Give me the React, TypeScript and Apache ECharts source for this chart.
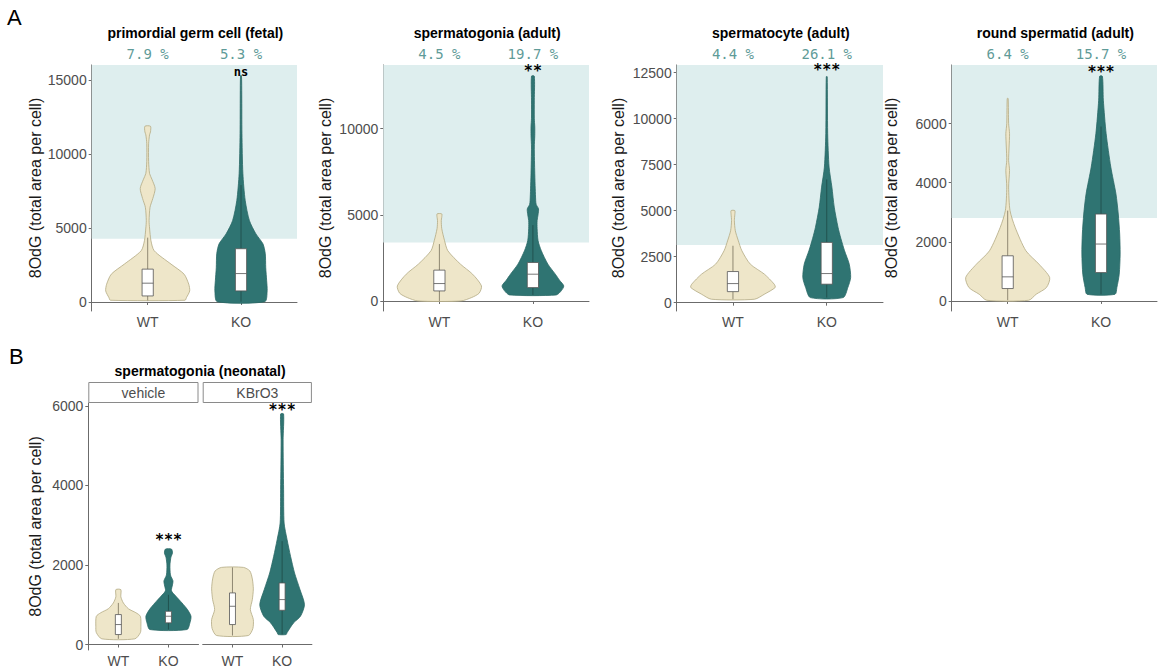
import React, { useEffect, useRef } from "react";
import * as echarts from "echarts";

// ---------------- data ----------------
const categories = ["WT", "KO"];
const categoryPositions = [1, 2];

const titlesA = [
  "primordial germ cell (fetal)",
  "spermatogonia (adult)",
  "spermatocyte (adult)",
  "round spermatid (adult)",
];
const percentWT = ["7.9 %", "4.5 %", "4.4 %", "6.4 %"];
const percentKO = ["5.3 %", "19.7 %", "26.1 %", "15.7 %"];
const signifA = ["ns", "**", "***", "***"];
const signifAtA = [15550, 13340, 12650, 7745];
const shadeFromA = [4280, 3395, 3133, 2808];
const yMinA = [-611, -582, -453, -340];
const yMaxA = [16022, 13686, 12920, 7982];
const yTicksA = [
  [0, 5000, 10000, 15000],
  [0, 5000, 10000],
  [0, 2500, 5000, 7500, 10000, 12500],
  [0, 2000, 4000, 6000],
];

// violin profiles: [value, width as fraction of one category unit]
const pgcWT = [[115, 0.8], [290, 0.83], [747, 0.9], [1200, 0.88], [1880, 0.78], [2560, 0.5], [3462, 0.14], [4140, 0.07], [5000, 0.04], [5500, 0.03], [6400, 0.05], [7000, 0.11], [7670, 0.16], [8300, 0.09], [8690, 0.04], [9500, 0.02], [10700, 0.02], [11300, 0.04], [11500, 0.06], [11880, 0.06]];
const pgcKO = [[20, 0.51], [750, 0.56], [1430, 0.55], [2310, 0.53], [3260, 0.52], [3930, 0.47], [4600, 0.32], [5500, 0.18], [6860, 0.09], [8690, 0.04], [11400, 0.02], [14000, 0.016], [15300, 0.01]];
const pgcBox = [[100, 407, 1270, 2220, 4350], [20, 747, 1920, 3600, 7900]];

const spgWT = [[0, 0.46], [200, 0.69], [450, 0.85], [874, 0.9], [1553, 0.71], [2136, 0.45], [2912, 0.18], [3500, 0.11], [4200, 0.05], [4660, 0.04], [4850, 0.05], [5050, 0.05]];
const spgKO = [[350, 0.5], [600, 0.61], [874, 0.66], [1200, 0.57], [1553, 0.48], [2136, 0.32], [2912, 0.18], [3500, 0.11], [4200, 0.09], [4660, 0.09], [5000, 0.11], [5340, 0.12], [5600, 0.07], [5820, 0.06], [6500, 0.05], [7380, 0.04], [8930, 0.03], [9600, 0.04], [10090, 0.04], [10600, 0.03], [11650, 0.03], [13040, 0.03]];
const spgBox = [[0, 582, 1010, 1788, 3300], [350, 775, 1553, 2230, 4400]];

const spcWT = [[187, 0.46], [460, 0.67], [823, 0.9], [1005, 0.88], [1550, 0.67], [2094, 0.37], [2822, 0.19], [3400, 0.11], [3910, 0.05], [4460, 0.03], [4800, 0.04], [5005, 0.04]];
const spcKO = [[277, 0.35], [823, 0.45], [1366, 0.51], [2094, 0.48], [2822, 0.38], [3500, 0.3], [4100, 0.24], [5190, 0.16], [6280, 0.11], [7370, 0.05], [9190, 0.02], [12285, 0.01]];
const spcBox = [[187, 600, 1037, 1692, 3094], [277, 1005, 1583, 3276, 6700]];

const rsWT = [[23, 0.45], [226, 0.61], [453, 0.83], [792, 0.9], [1245, 0.67], [1698, 0.39], [2490, 0.16], [3056, 0.05], [3850, 0.02], [4415, 0.04], [4754, 0.02], [5207, 0.03], [5660, 0.04], [6000, 0.02], [6850, 0.01]];
const rsKO = [[226, 0.3], [453, 0.34], [905, 0.39], [1585, 0.41], [2264, 0.4], [2940, 0.37], [3620, 0.32], [4528, 0.21], [5660, 0.11], [6790, 0.05], [7600, 0.03]];
const rsBox = [[23, 420, 815, 1528, 3056], [226, 960, 1925, 2940, 5900]];

// panel B
const titleB = "spermatogonia (neonatal)";
const facetsB = ["vehicle", "KBrO3"];
const signifB = ["***", "***"];
const signifAtB = [2636, 5900];
const yMinB = -138;
const yMaxB = 6075;
const yTicksB = [0, 2000, 4000, 6000];

const vehWT = [[143, 0.66], [300, 0.88], [460, 0.9], [710, 0.88], [800, 0.7], [900, 0.4], [1046, 0.2], [1200, 0.1], [1380, 0.1]];
const vehKO = [[377, 0.74], [550, 0.86], [711, 0.9], [878, 0.76], [1046, 0.54], [1213, 0.3], [1350, 0.12], [1500, 0.16], [1600, 0.18], [1750, 0.08], [2000, 0.06], [2200, 0.1], [2300, 0.16], [2400, 0.12]];
const vehBox = [[143, 251, 502, 753, 1046], [377, 545, 711, 836, 1250]];

const kbrWT = [[226, 0.64], [400, 0.82], [628, 0.84], [879, 0.72], [1130, 0.8], [1400, 0.84], [1650, 0.8], [1850, 0.7], [1940, 0.44]];
const kbrKO = [[251, 0.16], [300, 0.2], [544, 0.46], [711, 0.74], [1004, 0.9], [1381, 0.72], [1800, 0.5], [2218, 0.34], [2637, 0.2], [3055, 0.08], [3892, 0.06], [5148, 0.04], [5800, 0.06]];
const kbrBox = [[226, 502, 962, 1298, 1940], [251, 861, 1130, 1548, 2600]];

// ---------------- styles ----------------
const SANS = "Liberation Sans, Arial, Helvetica, sans-serif";
const MONO = "DejaVu Sans Mono, monospace";
const FILL = ["#eee6c9", "#2f7472"];
const STROKE = ["#b3a983", "#2a6866"];
const WHISKER = ["#77705c", "#1e4a48"];
const SHADE = "#deeeee";
const AXIS = "#6b6b6b";
const TICKTXT = "#4d4d4d";
const PCT = "#5f9b98";

const gridsA = [
  { left: 91.7, width: 205.3 },
  { left: 383.3, width: 205.7 },
  { left: 676.7, width: 206.3 },
  { left: 951.7, width: 205.3 },
];
const gridsB = [
  { left: 88.3, width: 110.2 },
  { left: 202.7, width: 109.2 },
];
const topA = 65, heightA = 246;
const topB = 403, heightB = 248;
const nameGapA = [48, 50, 50, 52];

function violinSeries(g: number, profiles: number[][][]) {
  return {
    type: "custom",
    xAxisIndex: g,
    yAxisIndex: g,
    z: 2,
    silent: true,
    encode: { x: 0, y: 1 },
    data: categoryPositions.map((c) => [c, 0]),
    renderItem: (params: any, api: any) => {
      const i = params.dataIndex;
      const prof = profiles[i];
      const x = api.value(0);
      const unit = api.size([1, 0])[0];
      const L: number[][] = [];
      const R: number[][] = [];
      for (const [v, w] of prof) {
        const p = api.coord([x, v]);
        L.push([p[0] - (w * unit) / 2, p[1]]);
        R.push([p[0] + (w * unit) / 2, p[1]]);
      }
      return {
        type: "polygon",
        shape: { points: L.concat(R.reverse()), smooth: 0.25 },
        style: { fill: FILL[i], stroke: STROKE[i], lineWidth: 0.8 },
      };
    },
  };
}

function boxSeries(g: number, boxes: number[][]) {
  return {
    type: "custom",
    xAxisIndex: g,
    yAxisIndex: g,
    z: 3,
    silent: true,
    encode: { x: 0, y: [1, 2, 3, 4, 5] },
    data: boxes.map((b, i) => [categoryPositions[i], ...b]),
    renderItem: (params: any, api: any) => {
      const i = params.dataIndex;
      const x = api.value(0);
      const c = (k: number) => api.coord([x, api.value(k)]);
      const pMin = c(1), pQ1 = c(2), pMed = c(3), pQ3 = c(4), pMax = c(5);
      const hw = api.size([0.12, 0])[0] / 2;
      const cx = pMed[0];
      const ws = { stroke: WHISKER[i], lineWidth: 0.8 };
      const bs = { stroke: "#555555", lineWidth: 0.8 };
      return {
        type: "group",
        children: [
          { type: "line", shape: { x1: cx, y1: pMin[1], x2: cx, y2: pQ1[1] }, style: ws },
          { type: "line", shape: { x1: cx, y1: pQ3[1], x2: cx, y2: pMax[1] }, style: ws },
          { type: "rect", shape: { x: cx - hw, y: pQ3[1], width: 2 * hw, height: pQ1[1] - pQ3[1] }, style: { fill: "#ffffff", ...bs } },
          { type: "line", shape: { x1: cx - hw, y1: pMed[1], x2: cx + hw, y2: pMed[1] }, style: bs },
        ],
      };
    },
  };
}

function shadeSeries(g: number, from: number) {
  return {
    type: "custom",
    xAxisIndex: g,
    yAxisIndex: g,
    z: 1,
    silent: true,
    encode: { x: 0, y: 1 },
    data: [[1, from]],
    renderItem: (params: any, api: any) => {
      const cs = params.coordSys;
      const yy = api.coord([1, api.value(1)])[1];
      return {
        type: "rect",
        shape: { x: cs.x, y: cs.y, width: cs.width, height: yy - cs.y },
        style: { fill: SHADE },
      };
    },
  };
}

function signifSeries(g: number, label: string, at: number) {
  const size = label === "ns" ? 12 : 15;
  return {
    type: "custom",
    xAxisIndex: g,
    yAxisIndex: g,
    z: 4,
    silent: true,
    encode: { x: 0, y: 1 },
    data: [[categoryPositions[1], at]],
    renderItem: (params: any, api: any) => {
      const p = api.coord([api.value(0), api.value(1)]);
      return {
        type: "text",
        x: p[0],
        y: p[1],
        style: {
          text: label,
          fill: "#000000",
          font: `bold ${size}px ${MONO}`,
          align: "center",
          verticalAlign: "middle",
          textAlign: "center",
          textVerticalAlign: "middle",
        },
      };
    },
  };
}

function bottomXAxis(g: number) {
  return {
    type: "value",
    gridIndex: g,
    min: 0.4,
    max: 2.6,
    position: "bottom",
    splitLine: { show: false },
    axisLine: { show: true, lineStyle: { color: AXIS, width: 1 } },
    axisTick: { show: true, length: 3, customValues: categoryPositions, lineStyle: { color: AXIS } },
    axisLabel: {
      customValues: categoryPositions,
      formatter: (v: number) => categories[Math.round(v) - 1],
      color: TICKTXT,
      fontSize: 14,
      fontFamily: SANS,
      margin: 4,
    },
  };
}

function topXAxis(g: number) {
  return {
    type: "value",
    gridIndex: g,
    min: 0.4,
    max: 2.6,
    position: "top",
    splitLine: { show: false },
    axisLine: { show: false },
    axisTick: { show: false },
    axisLabel: {
      customValues: categoryPositions,
      formatter: (v: number) => (Math.round(v) === 1 ? percentWT[g] : percentKO[g]),
      color: PCT,
      fontSize: 14,
      fontFamily: MONO,
      margin: 4,
    },
  };
}

function yAxis(g: number, min: number, max: number, ticks: number[], gap: number, show: boolean) {
  return {
    type: "value",
    gridIndex: g,
    min,
    max,
    show,
    splitLine: { show: false },
    axisLine: { show: true, lineStyle: { color: AXIS, width: 1 } },
    axisTick: { show: true, length: 3, customValues: ticks, lineStyle: { color: AXIS } },
    axisLabel: {
      customValues: ticks,
      formatter: (v: number) => String(v),
      color: TICKTXT,
      fontSize: 14,
      fontFamily: SANS,
      margin: 5,
    },
    name: "8OdG (total area per cell)",
    nameLocation: "middle",
    nameGap: gap,
    nameTextStyle: { fontSize: 16, color: "#1a1a1a", fontFamily: SANS },
  };
}

function buildOption() {
  const grid: any[] = [];
  const xAxis: any[] = [];
  const yAxes: any[] = [];
  const series: any[] = [];
  const violinsA = [[pgcWT, pgcKO], [spgWT, spgKO], [spcWT, spcKO], [rsWT, rsKO]];
  const boxesA = [pgcBox, spgBox, spcBox, rsBox];
  gridsA.forEach((gr, g) => {
    grid.push({ left: gr.left, width: gr.width, top: topA, height: heightA });
    xAxis.push(bottomXAxis(g));
    yAxes.push(yAxis(g, yMinA[g], yMaxA[g], yTicksA[g], nameGapA[g], true));
    series.push(shadeSeries(g, shadeFromA[g]));
    series.push(violinSeries(g, violinsA[g]));
    series.push(boxSeries(g, boxesA[g]));
    series.push(signifSeries(g, signifA[g], signifAtA[g]));
  });
  const violinsB = [[vehWT, vehKO], [kbrWT, kbrKO]];
  const boxesB = [vehBox, kbrBox];
  gridsB.forEach((gr, k) => {
    const g = 4 + k;
    grid.push({ left: gr.left, width: gr.width, top: topB, height: heightB });
    xAxis.push(bottomXAxis(g));
    yAxes.push(yAxis(g, yMinB, yMaxB, yTicksB, 45, k === 0));
    series.push(violinSeries(g, violinsB[k]));
    series.push(boxSeries(g, boxesB[k]));
    series.push(signifSeries(g, signifB[k], signifAtB[k]));
  });
  gridsA.forEach((_, g) => xAxis.push(topXAxis(g)));

  const graphic: any[] = [];
  const txt = (text: string, x: number, y: number, font: string, fill: string, align = "center") => ({
    type: "text",
    x,
    y,
    silent: true,
    style: { text, font, fill, align, verticalAlign: "middle", textAlign: align, textVerticalAlign: "middle" },
  });
  graphic.push(txt("A", 7, 17, `22px ${SANS}`, "#000", "left"));
  graphic.push(txt("B", 9, 356, `22px ${SANS}`, "#000", "left"));
  gridsA.forEach((gr, g) => {
    graphic.push(txt(titlesA[g], gr.left + gr.width / 2 + 1, 33, `bold 14px ${SANS}`, "#000"));
  });
  const bLeft = gridsB[0].left;
  const bRight = gridsB[1].left + gridsB[1].width;
  graphic.push(txt(titleB, (bLeft + bRight) / 2, 370.5, `bold 14px ${SANS}`, "#000"));
  gridsB.forEach((gr, k) => {
    graphic.push({
      type: "rect",
      silent: true,
      shape: { x: gr.left + 0.5, y: 382.5, width: gr.width - 1, height: 20 },
      style: { fill: "#ffffff", stroke: "#8a8a8a", lineWidth: 1 },
    });
    graphic.push(txt(facetsB[k], gr.left + gr.width / 2, 392.5, `14px ${SANS}`, TICKTXT));
  });

  return {
    animation: false,
    backgroundColor: "#ffffff",
    grid,
    xAxis,
    yAxis: yAxes,
    series,
    graphic,
  };
}

export default function App() {
  const ref = useRef<HTMLDivElement>(null);
  useEffect(() => {
    const chart = echarts.init(ref.current as HTMLDivElement, null, { renderer: "svg" });
    chart.setOption(buildOption() as any);
    return () => chart.dispose();
  }, []);
  return (
    <div
      ref={ref}
      style={{ position: "absolute", left: 0, top: 0, width: 1161, height: 668, background: "#fff" }}
    />
  );
}
